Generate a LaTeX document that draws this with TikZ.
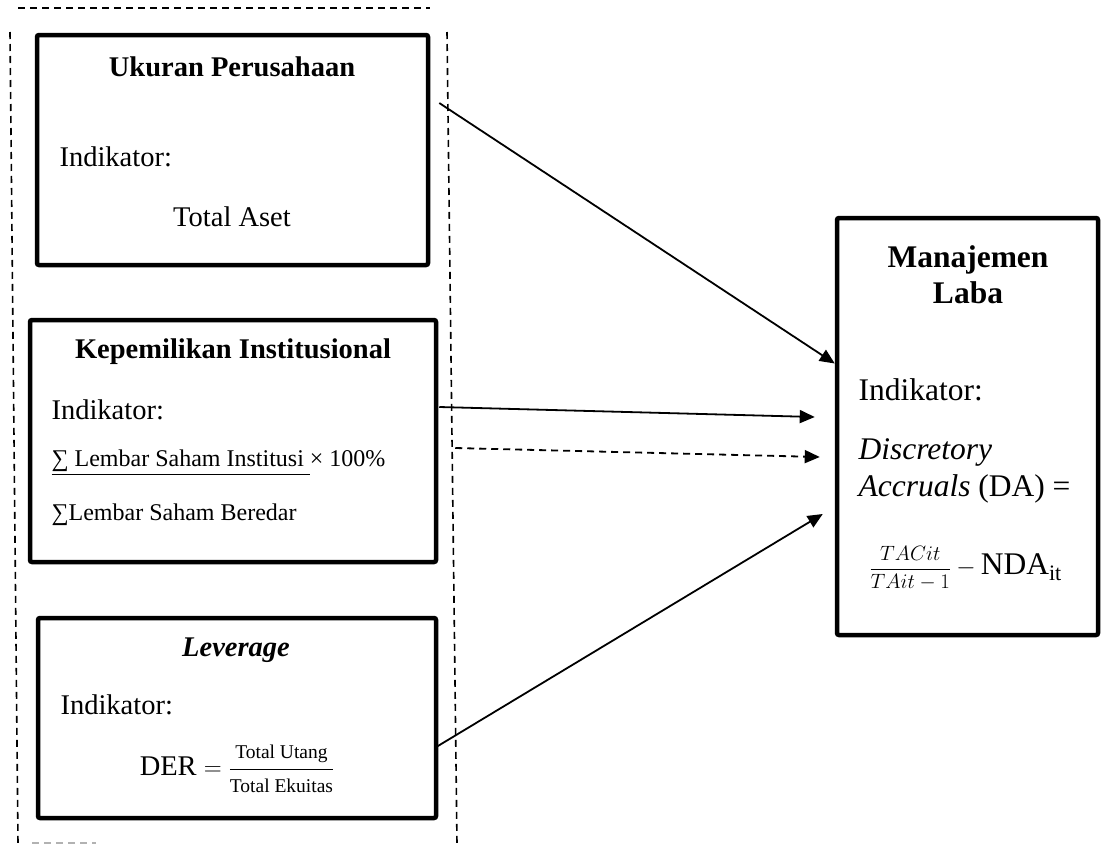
\documentclass[tikz,border=0pt]{standalone}
\usepackage{fontspec}
\usepackage{amsmath}
\setmainfont{Liberation Serif}
\usetikzlibrary{arrows.meta}

\begin{document}
\begin{tikzpicture}[x=1pt,y=-1pt,
        varBox/.style = {draw,line width=4.5pt,rounded corners=2pt,inner sep=0pt},
        titleText/.style = {font=\fontsize{28.5}{34}\selectfont\bfseries},
        bodyText/.style = {font=\fontsize{28.5}{34}\selectfont},
        smallText/.style = {font=\fontsize{24}{28}\selectfont},
        bigText/.style = {font=\fontsize{31.5}{37}\selectfont,align=left},
        groupLine/.style = {line width=1.6pt,dash pattern=on 7pt off 5pt},
        arr/.style = {line width=1.8pt,-{Triangle[length=15pt,width=13pt]}}
        ]
        \useasboundingbox (0,0) rectangle (1101,844);

        % independent variables
        \node[varBox,minimum width=391pt,minimum height=230pt] (ukuran) at (232.5,150) {};
        \node[varBox,minimum width=406pt,minimum height=242pt] (kepemilikan) at (233,441) {};
        \node[varBox,minimum width=398pt,minimum height=200pt] (leverage) at (237,718) {};
        % dependent variable
        \node[varBox,minimum width=261pt,minimum height=417pt] (manajemen) at (967.5,426.5) {};

        \node[titleText] (ukuranT) at (232,67) {Ukuran Perusahaan};
        \node[bodyText,anchor=west] (ukuranI) at (56,157) {Indikator:};
        \node[bodyText] (ukuranA) at (232,217) {Total Aset};

        \node[titleText] (kepT) at (233,352) {Kepemilikan Institusional};
        \node[bodyText,anchor=west] (kepI) at (48,410) {Indikator:};
        \node[smallText,anchor=west] (kepA) at (48,463) {\underline{∑ Lembar Saham Institusi\ }× 100\%};
        \node[smallText,anchor=west] (kepB) at (48,515) {∑Lembar Saham Beredar};

        \node[titleText] (levT) at (236,650) {\itshape Leverage};
        \node[bodyText,anchor=west] (levI) at (57,705) {Indikator:};
        \node[bodyText] (levA) at (237,769) {DER $=\dfrac{\text{\fontsize{19.5}{23}\selectfont Total Utang}}{\text{\fontsize{19.5}{23}\selectfont Total Ekuitas}}$};

        \node[bigText,font=\fontsize{31.5}{36}\selectfont\bfseries,align=center] (manT) at (968,275) {Manajemen\\Laba};
        \node[bigText,anchor=west] (manI) at (855,390) {Indikator:};
        \node[bigText,anchor=west] (manD) at (855,471) {\textit{Discretory}\\\textit{Accruals} (DA) =};
        \node[bigText,anchor=west] (manF) at (866,568) {{\fontsize{21}{25}\selectfont$\dfrac{TACit}{TAit-1}$}\,$-$\,NDA\textsubscript{it}};

        % dashed group frame
        \draw[groupLine] (18,8) -- (430,8);
        \draw[groupLine] (10,32) -- (18,844);
        \draw[groupLine] (447,32) -- (457,844);
        \draw[groupLine,gray!60] (32,843) -- (96,843);

        % connectors
        \coordinate (s1) at ([xshift=9pt,yshift=47pt]ukuran.east);
        \coordinate (t1) at ([yshift=63pt]manajemen.west);
        \coordinate (s2) at ([xshift=1pt,yshift=34pt]kepemilikan.east);
        \coordinate (t2) at ([xshift=-20pt,yshift=9.5pt]manajemen.west);
        \coordinate (s3) at ([xshift=17pt,yshift=-7pt]kepemilikan.east);
        \coordinate (t3) at ([xshift=-15pt,yshift=-30.5pt]manajemen.west);
        \coordinate (s4) at ([xshift=-2pt,yshift=-29pt]leverage.east);
        \coordinate (t4) at ([xshift=-12pt,yshift=-87.5pt]manajemen.west);
        \draw[arr] (s1) -- (t1);
        \draw[arr] (s2) -- (t2);
        \draw[arr,dash pattern=on 7pt off 5pt] (s3) -- (t3);
        \draw[arr] (s4) -- (t4);
    \end{tikzpicture}
\end{document}
